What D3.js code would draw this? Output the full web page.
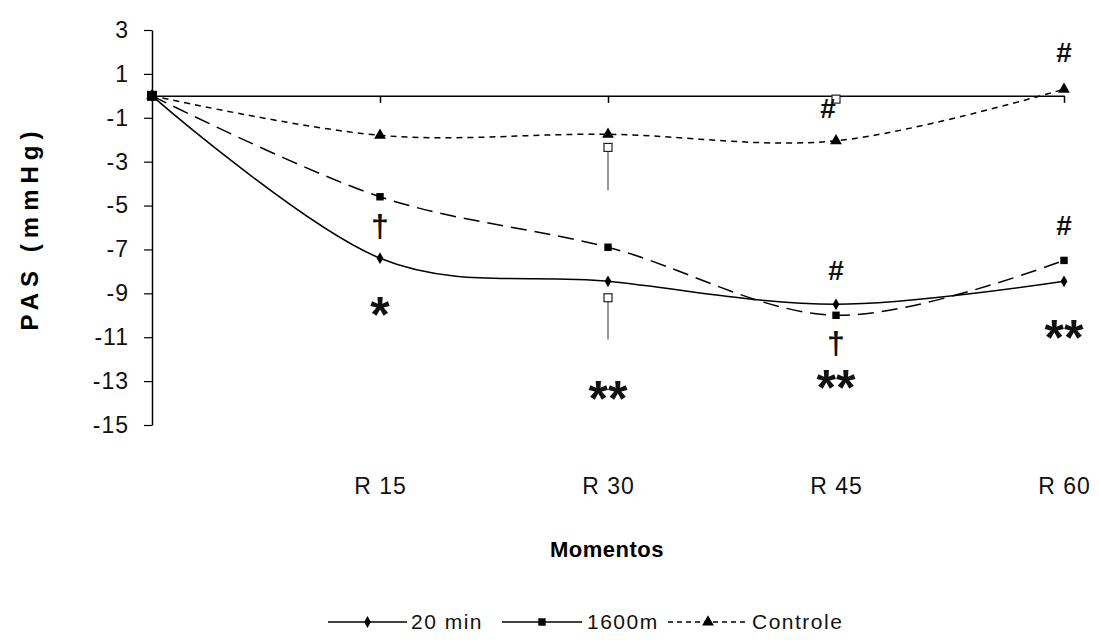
<!DOCTYPE html>
<html><head><meta charset="utf-8">
<script src="https://cdn.jsdelivr.net/npm/d3@7"></script>
<style>body{margin:0;background:#fff}</style>
</head><body>
<svg id="c" width="1099" height="640"></svg>
<script>
const categories = ["", "R 15", "R 30", "R 45", "R 60"];
const yTicks = [3, 1, -1, -3, -5, -7, -9, -11, -13, -15];
const s20min = [0, -7.4, -8.45, -9.5, -8.45];
const s1600m = [0, -4.6, -6.9, -10.0, -7.5];
const sControle = [0, -1.8, -1.75, -2.05, 0.3];
const errCat = [2, 2, 3];
const errTop = [-2.35, -9.2, -0.15];
const errBottom = [-4.3, -11.1, -0.15];
const annCat = [1, 1, 2, 3, 3, 3, 3, 4, 4, 4];
const annY = [-5.9, -9.5, -13.3, -0.55, -7.95, -11.2, -12.8, 2.0, -5.9, -10.55];
const annText = ["†", "*", "**", "#", "#", "†", "**", "#", "#", "**"];

const svg = d3.select("#c");
const x = d3.scalePoint().domain(d3.range(categories.length)).range([152, 1064]);
const y = d3.scaleLinear().domain([-15, 3]).range([425, 30]);
const font = "'Liberation Sans', Arial, sans-serif";

// y axis
const ya = svg.append("g").attr("transform", "translate(152,0)")
  .call(d3.axisLeft(y).tickValues(yTicks).tickSize(8).tickSizeOuter(0).tickFormat(d => String(d)));
ya.select(".domain").attr("stroke", "#000").attr("stroke-width", 1.5);
ya.selectAll(".tick line").attr("stroke", "#000").attr("stroke-width", 1.2);
ya.selectAll(".tick text").attr("font-family", font).attr("font-size", 23).attr("letter-spacing", 1)
  .attr("fill", "#111").attr("x", -23);

// x axis at y=0
const xa = svg.append("g").attr("transform", `translate(0,${y(0)})`)
  .call(d3.axisBottom(x).tickValues(d3.range(1, categories.length)).tickSize(7).tickSizeOuter(0).tickFormat(i => categories[i]));
xa.select(".domain").attr("stroke", "#000").attr("stroke-width", 1.5);
xa.selectAll(".tick line").attr("stroke", "#000").attr("stroke-width", 1.5);
xa.selectAll(".tick text").attr("font-family", font).attr("font-size", 23).attr("letter-spacing", 1).attr("fill", "#111")
  .attr("y", 0).attr("dy", 0).attr("transform", `translate(0,${488 - y(0)})`).attr("dominant-baseline", "middle");

// axis titles
svg.append("text").attr("x", 607).attr("y", 557).attr("text-anchor", "middle")
  .attr("font-family", font).attr("font-weight", "bold").attr("font-size", 22).attr("letter-spacing", 0.5).text("Momentos");
svg.append("text").attr("transform", "translate(38,228) rotate(-90)").attr("text-anchor", "middle")
  .attr("font-family", font).attr("font-weight", "bold").attr("font-size", 24).attr("letter-spacing", 6).text("PAS (mmHg)");

// error bars
errCat.forEach((c, i) => {
  svg.append("line").attr("x1", x(c)).attr("x2", x(c)).attr("y1", y(errTop[i])).attr("y2", y(errBottom[i]))
    .attr("stroke", "#999").attr("stroke-width", 2);
  svg.append("rect").attr("x", x(c) - 4).attr("y", y(errTop[i]) - 4).attr("width", 8).attr("height", 8)
    .attr("fill", "#fff").attr("stroke", "#222").attr("stroke-width", 1.2);
});

const line = d3.line().x((d, i) => x(i)).y(d => y(d)).curve(d3.curveCatmullRom.alpha(0));
const series = [
  {v: s20min, dash: null, marker: "diamond"},
  {v: s1600m, dash: "16,8", marker: "square"},
  {v: sControle, dash: "6,5", marker: "triangle"}
];
const sym = {diamond: d3.symbol().type(d3.symbolDiamond).size(40),
             square: d3.symbol().type(d3.symbolSquare).size(55),
             triangle: d3.symbol().type(d3.symbolTriangle).size(60)};
series.forEach(s => {
  svg.append("path").attr("d", line(s.v)).attr("fill", "none").attr("stroke", "#000")
    .attr("stroke-width", 1.5).attr("stroke-dasharray", s.dash);
  svg.selectAll(null).data(s.v).enter().append("path")
    .attr("transform", (d, i) => `translate(${x(i)},${y(d)})`).attr("d", sym[s.marker]()).attr("fill", "#000");
});
svg.append("rect").attr("x", x(0) - 5).attr("y", y(0) - 5).attr("width", 10).attr("height", 10).attr("fill", "#000");

// annotations
const glyphStyle = {"*": {size: 50, dy: 28}, "**": {size: 50, dy: 28}, "#": {size: 28, dy: 10}, "†": {size: 32, dy: 12}};
annText.forEach((t, i) => {
  const g = glyphStyle[t];
  svg.append("text").attr("x", x(annCat[i]) + (t === "#" && annCat[i] === 3 && annY[i] > -1 ? -8 : 0))
    .attr("y", y(annY[i]) + g.dy).attr("text-anchor", "middle")
    .attr("font-family", font).attr("font-weight", "bold").attr("font-size", g.size).attr("fill", "#111").text(t);
});

// legend
const leg = svg.append("g");
const legItems = [
  {name: "20 min", x1: 328, x2: 407, dash: null, marker: "diamond", tx: 411},
  {name: "1600m", x1: 502, x2: 582, dash: null, marker: "square", tx: 587},
  {name: "Controle", x1: 668, x2: 748, dash: "5,4", marker: "triangle", tx: 752}
];
legItems.forEach(l => {
  leg.append("line").attr("x1", l.x1).attr("x2", l.x2).attr("y1", 622).attr("y2", 622)
    .attr("stroke", "#000").attr("stroke-width", 1.5).attr("stroke-dasharray", l.dash);
  leg.append("path").attr("transform", `translate(${(l.x1 + l.x2) / 2},622)`).attr("d", sym[l.marker]()).attr("fill", "#000");
  leg.append("text").attr("x", l.tx).attr("y", 629).attr("font-family", font).attr("font-size", 21)
    .attr("letter-spacing", 1.5).attr("fill", "#111").text(l.name);
});
</script>
</body></html>
